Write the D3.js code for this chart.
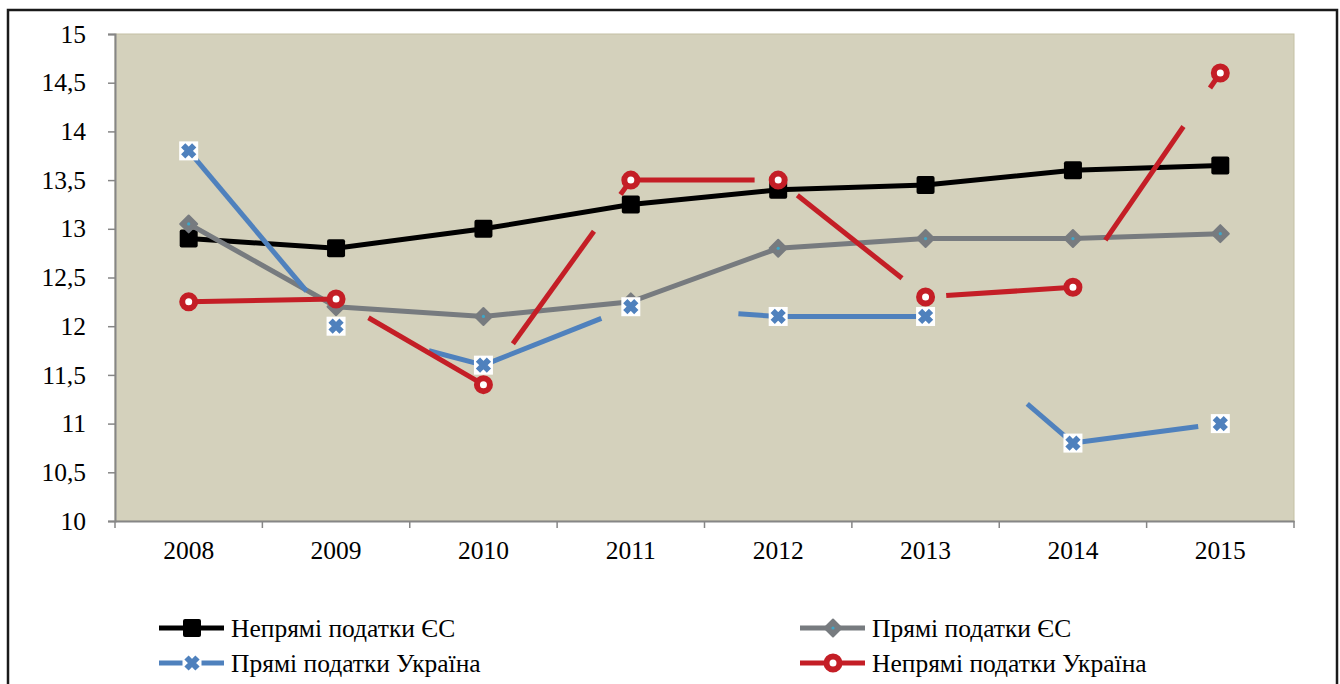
<!DOCTYPE html>
<html>
<head>
<meta charset="utf-8">
<script src="https://cdn.jsdelivr.net/npm/d3@7"></script>
<style>
  body { margin: 0; background: #fff; }
</style>
</head>
<body>
<div id="chart"></div>
<script>
// data
const years = ['2008', '2009', '2010', '2011', '2012', '2013', '2014', '2015'];
const yTicks = [10, 10.5, 11, 11.5, 12, 12.5, 13, 13.5, 14, 14.5, 15];

const indirectEU = [12.9, 12.8, 13.0, 13.25, 13.4, 13.45, 13.6, 13.65];
const directEU = [13.05, 12.2, 12.1, 12.25, 12.8, 12.9, 12.9, 12.95];
const directUA = [13.8, 12.0, 11.6, 12.2, 12.1, 12.1, 10.8, 11.0];
const indirectUA = [12.25, 12.28, 11.4, 13.5, 13.5, 12.3, 12.4, 14.6];

// visible parts of each segment (the original picture has broken lines)
const directUAParts = [[[0, 0.8]], [[0.63, 1]], [[0, 0.8]], [[0.73, 1]], [[0, 1]], [[0.69, 1]], [[0, 0.85]]];
const indirectUAParts = [[[0, 1]], [[0.22, 1]], [[0.2, 0.75], [0.93, 1]], [[0, 0.84]], [[0.13, 0.84]], [[0.14, 1]], [[0.22, 0.75], [0.93, 1]]];

const seriesNames = ['Непрямі податки ЄС', 'Прямі податки ЄС', 'Прямі податки Україна', 'Непрямі податки Україна'];

const W = 1340, H = 684;
const margin = { left: 115, top: 34, right: 1294, bottom: 521 };
const FONT = '"Liberation Serif", "Times New Roman", serif';

const svg = d3.select('#chart').append('svg')
  .attr('width', W)
  .attr('height', H);

// outer frame
svg.append('rect')
  .attr('x', 8).attr('y', 10)
  .attr('width', 1329).attr('height', 690)
  .attr('fill', '#fff')
  .attr('stroke', '#1a1a1a')
  .attr('stroke-width', 2.5);

const x = d3.scaleBand().domain(years).range([margin.left, margin.right]);
const y = d3.scaleLinear().domain([10, 15]).range([margin.bottom, margin.top]);
const cx = (i) => x(years[i]) + x.bandwidth() / 2;

// plot area
svg.append('rect')
  .attr('x', margin.left).attr('y', margin.top)
  .attr('width', margin.right - margin.left)
  .attr('height', margin.bottom - margin.top)
  .attr('fill', '#d4d1bc')
  .attr('stroke', '#c4c0a4')
  .attr('stroke-width', 1);

// y axis
const yAxis = svg.append('g')
  .attr('transform', `translate(${margin.left},0)`)
  .call(d3.axisLeft(y).tickValues(yTicks).tickSize(7).tickPadding(22)
    .tickFormat((d) => String(d).replace('.', ',')));
yAxis.attr('font-family', null).attr('font-size', null);
yAxis.select('.domain').attr('stroke', '#868686').attr('stroke-width', 2);
yAxis.selectAll('.tick line').attr('stroke', '#868686').attr('stroke-width', 1.5);
yAxis.selectAll('.tick text')
  .style('font-family', FONT)
  .style('font-size', '25.5px')
  .attr('fill', '#000');

// x axis
const xAxis = svg.append('g')
  .attr('transform', `translate(0,${margin.bottom})`)
  .call(d3.axisBottom(x).tickSize(0).tickPadding(20));
xAxis.attr('font-family', null).attr('font-size', null);
xAxis.select('.domain').attr('stroke', '#868686').attr('stroke-width', 2);
xAxis.selectAll('.tick text')
  .style('font-family', FONT)
  .style('font-size', '25.5px')
  .attr('fill', '#000');
xAxis.selectAll('.sep')
  .data(d3.range(years.length + 1))
  .enter()
  .append('line')
  .attr('x1', (i) => margin.left + i * x.bandwidth())
  .attr('x2', (i) => margin.left + i * x.bandwidth())
  .attr('y1', 0).attr('y2', 7)
  .attr('stroke', '#868686')
  .attr('stroke-width', 1.5);

const line = d3.line().x((d, i) => cx(i)).y((d) => y(d));

// markers
function squareMarker(g, px, py, s) {
  g.append('rect')
    .attr('x', px - s / 2).attr('y', py - s / 2)
    .attr('width', s).attr('height', s)
    .attr('rx', 2)
    .attr('fill', '#000');
}
function diamondMarker(g, px, py, s) {
  g.append('path')
    .attr('d', d3.symbol().type(d3.symbolSquare).size(s * s)())
    .attr('transform', `translate(${px},${py}) rotate(45)`)
    .attr('fill', '#777b7f')
    .attr('stroke', '#777b7f')
    .attr('stroke-width', 2)
    .attr('stroke-linejoin', 'round');
  g.append('circle').attr('cx', px).attr('cy', py).attr('r', 1.6).attr('fill', '#3ea6c8');
}
function crossMarker(g, px, py, s) {
  g.append('rect')
    .attr('x', px - s / 2 - 1).attr('y', py - s / 2 - 1)
    .attr('width', s + 2).attr('height', s + 2)
    .attr('fill', '#fff');
  const h = s / 2 - 3;
  g.append('path')
    .attr('d', `M${px - h},${py - h}L${px + h},${py + h}M${px - h},${py + h}L${px + h},${py - h}`)
    .attr('stroke', '#4f81bd')
    .attr('stroke-width', 6);
}
function circleMarker(g, px, py) {
  g.append('circle')
    .attr('cx', px).attr('cy', py).attr('r', 6.5)
    .attr('fill', '#fff')
    .attr('stroke', '#c41e26')
    .attr('stroke-width', 6);
}

function drawBroken(values, parts, color) {
  const g = svg.append('g');
  parts.forEach((ranges, i) => {
    ranges.forEach(([a, b]) => {
      const x0 = cx(i), y0 = y(values[i]);
      const x1 = cx(i + 1), y1 = y(values[i + 1]);
      g.append('line')
        .attr('x1', x0 + (x1 - x0) * a).attr('y1', y0 + (y1 - y0) * a)
        .attr('x2', x0 + (x1 - x0) * b).attr('y2', y0 + (y1 - y0) * b)
        .attr('stroke', color)
        .attr('stroke-width', 5);
    });
  });
  return g;
}

// series 1: indirect EU
svg.append('path')
  .datum(indirectEU)
  .attr('d', line)
  .attr('fill', 'none')
  .attr('stroke', '#000')
  .attr('stroke-width', 5);
const m1 = svg.append('g');
indirectEU.forEach((v, i) => squareMarker(m1, cx(i), y(v), 18));

// series 2: direct EU
svg.append('path')
  .datum(directEU)
  .attr('d', line)
  .attr('fill', 'none')
  .attr('stroke', '#777b7f')
  .attr('stroke-width', 5);
const m2 = svg.append('g');
directEU.forEach((v, i) => diamondMarker(m2, cx(i), y(v), 12));

// series 3: direct UA
drawBroken(directUA, directUAParts, '#4f81bd');
const m3 = svg.append('g');
directUA.forEach((v, i) => crossMarker(m3, cx(i), y(v), 17));

// series 4: indirect UA
drawBroken(indirectUA, indirectUAParts, '#c41e26');
const m4 = svg.append('g');
indirectUA.forEach((v, i) => circleMarker(m4, cx(i), y(v)));

// legend
const legendPos = [[159, 628], [800, 628], [159, 663], [800, 663]];
const legendColors = ['#000', '#777b7f', '#4f81bd', '#c41e26'];
const lg = svg.append('g');
seriesNames.forEach((name, k) => {
  const [lx, ly] = legendPos[k];
  lg.append('line')
    .attr('x1', lx).attr('x2', lx + 65)
    .attr('y1', ly).attr('y2', ly)
    .attr('stroke', legendColors[k])
    .attr('stroke-width', 5);
  const mx = lx + 33;
  if (k === 0) squareMarker(lg, mx, ly, 18);
  if (k === 1) diamondMarker(lg, mx, ly, 12);
  if (k === 2) crossMarker(lg, mx, ly, 17);
  if (k === 3) circleMarker(lg, mx, ly);
  lg.append('text')
    .attr('x', lx + 72)
    .attr('y', ly + 9)
    .style('font-family', FONT)
    .style('font-size', '25.5px')
    .attr('fill', '#000')
    .text(name);
});
</script>
</body>
</html>
